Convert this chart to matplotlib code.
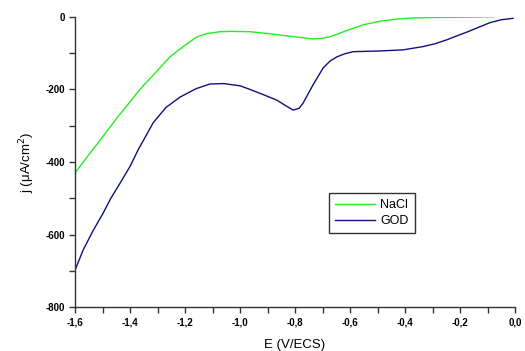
import matplotlib
matplotlib.use("Agg")
import matplotlib.pyplot as plt
from matplotlib.ticker import MultipleLocator, FuncFormatter

# NaCl (green) curve
e_nacl = [-1.6, -1.55, -1.5, -1.45, -1.4, -1.375, -1.35, -1.3, -1.255, -1.2, -1.156, -1.12,
          -1.073, -1.03, -0.964, -0.9, -0.855, -0.8, -0.735, -0.7, -0.673, -0.62, -0.553,
          -0.49, -0.429, -0.37, -0.309, -0.2, -0.08]
j_nacl = [-430, -380, -331, -281, -234, -210, -188, -148, -110, -78, -55, -46,
          -41, -40, -41, -46, -50, -55, -61, -59, -55, -40, -22,
          -12, -6, -3, -2, -1, 0]

# GOD (navy) curve
e_god = [-1.6, -1.571, -1.535, -1.498, -1.47, -1.436, -1.4, -1.371, -1.316, -1.27, -1.218,
         -1.16, -1.109, -1.06, -1.0, -0.964, -0.92, -0.865, -0.84, -0.807, -0.785, -0.771,
         -0.735, -0.698, -0.673, -0.647, -0.62, -0.589, -0.54, -0.491, -0.407, -0.335,
         -0.29, -0.247, -0.21, -0.175, -0.13, -0.091, -0.05, -0.007]
j_god = [-698, -643, -590, -541, -500, -458, -412, -367, -292, -250, -221,
         -198, -185, -184, -190, -200, -213, -230, -242, -257, -252, -238,
         -188, -141, -122, -110, -102, -96, -95, -94, -91, -82,
         -74, -63, -52, -42, -28, -16, -8, -4]

series_labels = ["NaCl", "GOD"]
x_label = "E (V/ECS)"
y_label = "j (\u03bcA/cm$^2$)"

fig = plt.figure(figsize=(5.25, 3.51), dpi=100)
ax = fig.add_axes([0.143, 0.125, 0.838, 0.827])

ax.plot(e_nacl, j_nacl, color="#22ee22", lw=1.0, label=series_labels[0])
ax.plot(e_god, j_god, color="#101080", lw=1.0, label=series_labels[1])

ax.set_xlim(-1.6, 0.0)
ax.set_ylim(-800, 0)
ax.spines["top"].set_visible(False)
ax.spines["right"].set_visible(False)
for s in ("left", "bottom"):
    ax.spines[s].set_color("#333333")
    ax.spines[s].set_linewidth(1.0)

ax.xaxis.set_major_locator(MultipleLocator(0.2))
ax.xaxis.set_minor_locator(MultipleLocator(0.1))
ax.yaxis.set_major_locator(MultipleLocator(200))
ax.yaxis.set_minor_locator(MultipleLocator(100))
ax.xaxis.set_major_formatter(FuncFormatter(lambda v, p: f"{v:.1f}".replace(".", ",").replace("-0,0", "0,0")))
ax.yaxis.set_major_formatter(FuncFormatter(lambda v, p: f"{int(round(v))}"))
ax.tick_params(which="both", direction="out", color="#333333")
ax.tick_params(which="major", length=4, width=1)
ax.tick_params(which="minor", length=4, width=1)
for lab in ax.get_xticklabels() + ax.get_yticklabels():
    lab.set_fontfamily("Liberation Sans")
    lab.set_fontweight("bold")
    lab.set_fontsize(7)

ax.set_xlabel(x_label, fontfamily="Liberation Sans", fontsize=9.5, labelpad=8)
ax.set_ylabel(y_label, fontfamily="Liberation Sans", fontsize=9.5, labelpad=6)

leg = ax.legend(loc="lower left", bbox_to_anchor=(0.563, 0.233), frameon=True, fancybox=False,
                edgecolor="#333333", framealpha=1, prop={"family": "Liberation Sans", "size": 9},
                handlelength=3.2, handletextpad=0.4, borderpad=0.5, labelspacing=0.3)
leg.get_frame().set_linewidth(1.0)

fig.savefig("out.png", dpi=100)
